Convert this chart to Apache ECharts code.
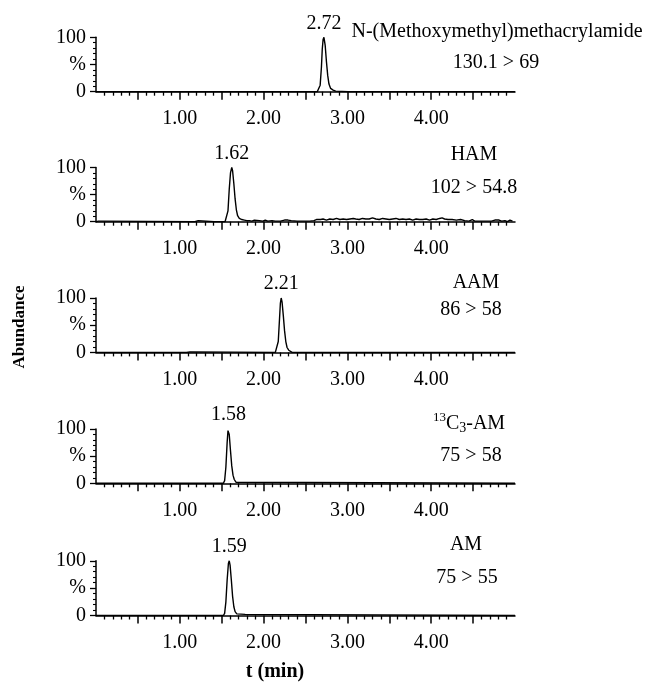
<!DOCTYPE html>
<html>
<head>
<meta charset="utf-8">
<script src="https://cdn.jsdelivr.net/npm/echarts@6/dist/echarts.min.js"></script>
<style>
  html, body { margin: 0; padding: 0; background: #fff; }
  #chart { width: 646px; height: 687px; }
</style>
</head>
<body>
<div id="chart"></div>
<script>
// MRM chromatograms: one panel per transition, time in minutes, relative intensity in %
const compounds = ['N-(Methoxymethyl)methacrylamide', 'HAM', 'AAM', '{sup|13}C{sub|3}-AM', 'AM'];
const transitions = ['130.1 > 69', '102 > 54.8', '86 > 58', '75 > 58', '75 > 55'];
const xLabelValues = [1, 2, 3, 4];
const xMajorTicks = [0.5, 1, 1.5, 2, 2.5, 3, 3.5, 4, 4.5];
const yLabelValues = [0, 50, 100];

const traceMMA = [[0,0],[2.64,0],[2.66,2],[2.675,12],[2.69,45],[2.70,78],[2.71,96],[2.72,100],[2.725,97],[2.735,85],
  [2.75,55],[2.765,30],[2.78,14],[2.80,6],[2.83,3],[2.86,1],[2.88,0],[3.01,0],[3.03,3],[3.05,0],[5,0]];

const traceHAM = [[0,0],[0.03,1],[0.08,1],[0.10,0],[1.18,0],[1.20,2],[1.22,2],[1.24,0],[1.41,0],[1.43,2],[1.45,0],
  [1.54,0],[1.56,3],[1.575,20],[1.59,60],[1.605,90],[1.62,100],[1.63,94],[1.645,70],[1.66,42],[1.675,22],[1.69,11],
  [1.71,6],[1.74,4],[1.77,3],[1.80,2],[1.83,2],[1.86,1],[1.89,3],[1.91,1],[1.95,2],[1.99,1],[2.02,3],[2.05,1],[2.10,2],
  [2.14,1],[2.20,1],[2.25,3],[2.29,3],[2.33,2],[2.40,1],[2.48,1],[2.55,1],[2.60,2],[2.63,4],[2.68,4],[2.71,5],[2.75,3],
  [2.79,5],[2.83,4],[2.87,6],[2.91,4],[2.95,5],[2.99,4],[3.03,5],[3.07,6],[3.10,5],[3.14,4],[3.18,6],[3.22,5],[3.26,5],
  [3.30,7],[3.34,5],[3.38,4],[3.42,6],[3.46,5],[3.50,4],[3.54,5],[3.58,6],[3.62,4],[3.66,5],[3.70,4],[3.74,5],[3.78,3],
  [3.82,5],[3.86,4],[3.90,4],[3.94,5],[3.98,3],[4.02,5],[4.06,4],[4.10,6],[4.13,7],[4.16,5],[4.20,4],[4.25,4],[4.30,3],
  [4.35,4],[4.40,2],[4.45,1],[4.49,4],[4.52,1],[4.58,1],[4.65,1],[4.72,1],[4.76,3],[4.78,1],[4.81,3],[4.84,1],[4.88,2],
  [4.91,0],[4.94,3],[4.97,1]];

const traceAAM = [[0,0],[1.04,0],[1.06,2],[1.08,0],[1.12,1],[1.14,0],[2.14,0],[2.16,3],[2.175,20],[2.19,62],[2.20,90],
  [2.21,100],[2.22,93],[2.235,68],[2.25,40],[2.265,20],[2.28,9],[2.30,4],[2.32,2],[2.34,0],[5,0]];

const traceAM13C3 = [[0,0],[1.52,0],[1.535,5],[1.55,30],[1.565,75],[1.575,97],[1.58,100],[1.59,90],[1.605,60],
  [1.62,32],[1.635,15],[1.65,7],[1.67,2],[1.69,0],[5,0]];

const traceAM = [[0,0],[1.52,0],[1.535,4],[1.55,25],[1.565,65],[1.58,95],[1.59,100],[1.60,92],[1.615,65],[1.63,35],
  [1.645,16],[1.66,7],[1.68,3],[1.70,2],[1.78,2],[1.80,0],[5,0]];

const traces = [traceMMA, traceHAM, traceAAM, traceAM13C3, traceAM];

// ---- layout ----
const FONT = '"Liberation Serif", "Times New Roman", serif';
const gridLeft = 96, gridWidth = 419;
const gridTop = [37.3, 167.5, 298, 429, 560.8];
const gridH = [54.4, 54.2, 54.4, 54.3, 54.7];
const namePos = [[497, 32], [474, 155], [476, 283], [469, 423.5], [466, 545]];
const transPos = [[496, 63], [474, 187.5], [471, 310], [471, 455.5], [467, 578]];

const black = '#000';
const textBase = { fontFamily: FONT, fontSize: 20, color: black };

function apexOf(trace) {
  let best = trace[0];
  trace.forEach(p => { if (p[1] > best[1]) best = p; });
  return best;
}

const grid = [], xAxis = [], yAxis = [], series = [], graphic = [];

traces.forEach((trace, i) => {
  grid.push({ left: gridLeft, top: gridTop[i], width: gridWidth, height: gridH[i], outerBoundsMode: 'none' });
  xAxis.push({
    gridIndex: i, type: 'value', min: 0, max: 5, interval: 0.5,
    axisLine: { show: true, lineStyle: { color: black, width: 1.5 } },
    axisTick: { show: true, length: 8, customValues: xMajorTicks, lineStyle: { color: black, width: 1.5 } },
    minorTick: { show: true, splitNumber: 5, length: 4, lineStyle: { color: black, width: 1.3 } },
    axisLabel: { customValues: xLabelValues, formatter: v => v.toFixed(2), margin: 17, ...textBase },
    splitLine: { show: false }, minorSplitLine: { show: false }
  });
  yAxis.push({
    gridIndex: i, type: 'value', min: 0, max: 100, interval: 50,
    axisLine: { show: true, lineStyle: { color: black, width: 1.5 } },
    axisTick: { show: true, length: 6, lineStyle: { color: black, width: 1.3 } },
    minorTick: { show: true, splitNumber: 5, length: 3, lineStyle: { color: black, width: 1.1 } },
    axisLabel: { customValues: yLabelValues, formatter: v => (v === 50 ? '%' : String(v)), margin: 10, ...textBase },
    splitLine: { show: false }, minorSplitLine: { show: false }
  });
  series.push({
    type: 'line', xAxisIndex: i, yAxisIndex: i, data: trace,
    showSymbol: false, symbol: 'none', silent: true,
    lineStyle: { color: black, width: 1.4 }
  });
  // retention time printed above the apex of each peak
  series.push({
    type: 'scatter', xAxisIndex: i, yAxisIndex: i, data: [apexOf(trace)],
    symbolSize: 0, silent: true,
    label: { show: true, position: 'top', distance: 4, formatter: p => p.value[0].toFixed(2),
             textBorderWidth: 0, opacity: 1, ...textBase }
  });
  graphic.push({
    type: 'text', x: namePos[i][0], y: namePos[i][1], silent: true,
    style: {
      text: compounds[i], align: 'center', verticalAlign: 'middle',
      font: '20px ' + FONT, fill: black,
      rich: {
        sup: { fontSize: 13, fontFamily: FONT, fill: black, verticalAlign: 'top', lineHeight: 24 },
        sub: { fontSize: 14, fontFamily: FONT, fill: black, verticalAlign: 'bottom', lineHeight: 24 }
      }
    }
  });
  graphic.push({
    type: 'text', x: transPos[i][0], y: transPos[i][1], silent: true,
    style: { text: transitions[i], align: 'center', verticalAlign: 'middle', font: '20px ' + FONT, fill: black }
  });
});

graphic.push({
  type: 'text', x: 20, y: 327, rotation: Math.PI / 2, silent: true,
  style: { text: 'Abundance', align: 'center', verticalAlign: 'middle', font: 'bold 17px ' + FONT, fill: black }
});
graphic.push({
  type: 'text', x: 275, y: 672, silent: true,
  style: { text: 't (min)', align: 'center', verticalAlign: 'middle', font: 'bold 20px ' + FONT, fill: black }
});

const chart = echarts.init(document.getElementById('chart'), null, { renderer: 'canvas' });
chart.setOption({
  animation: false,
  backgroundColor: '#fff',
  grid, xAxis, yAxis, series, graphic
});
</script>
</body>
</html>
